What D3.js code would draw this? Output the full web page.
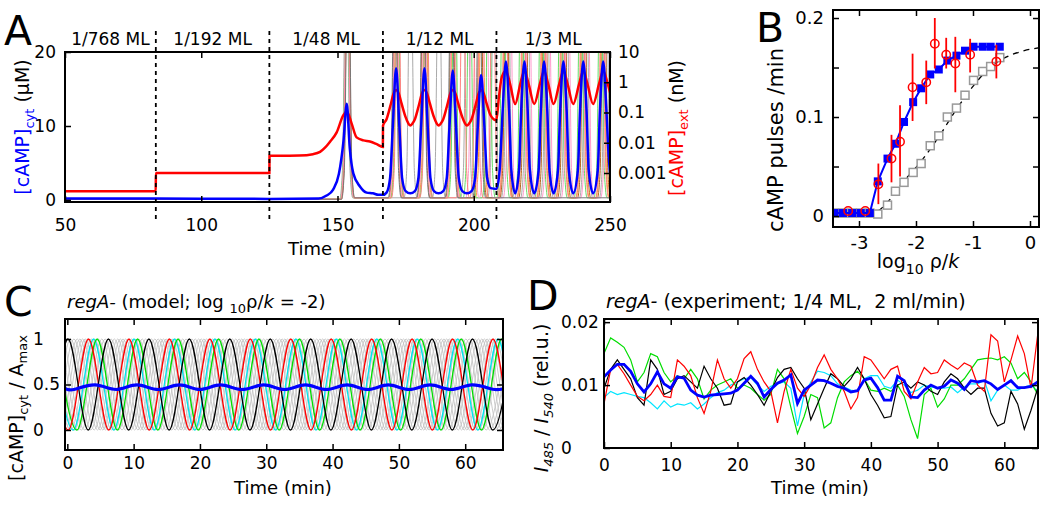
<!DOCTYPE html>
<html>
<head>
<meta charset="utf-8">
<style>
  body { margin: 0; background: #fff; }
  svg { font-family: 'DejaVu Sans', Verdana, sans-serif; }
</style>
</head>
<body>
<svg width="1050" height="507"></svg>
<script src="https://d3js.org/d3.v7.min.js"></script>
<script>
const FONT = "'DejaVu Sans', Verdana, sans-serif";
const svg = d3.select("svg");

// ---------------- Panel A data ----------------
const regionBounds = [50, 83.33, 125, 166.67, 208.33, 250];
const regionLabels = ["1/768 ML", "1/192 ML", "1/48 ML", "1/12 ML", "1/3 ML"];
const timeTicksA = [50, 100, 150, 200, 250];
const cytTicks = [0, 10, 20];
const extTicks = [0.001, 0.01, 0.1, 1, 10];
const extTickLabels = ["0.001", "0.01", "0.1", "1", "10"];

// mean cytosolic cAMP (uM), [time, value]
const cytMean = [
  [50, 0.2], [83.3, 0.2], [125, 0.15], [143, 0.2], [146, 0.6], [148.4, 1.4], [150.5, 3.5], [152.2, 8], [153.4, 13],
  [154.5, 7], [155.8, 3.6], [158.3, 1.8], [160.7, 1.0], [163, 0.9], [165, 0.7], [166.7, 0.7],
  [168, 1.0], [169.3, 3], [170.3, 10], [171.5, 17.8], [172.7, 10], [173.7, 3], [175, 1.2], [176.7, 0.9],
  [178.4, 1.2], [179.7, 3], [180.7, 10], [181.9, 17.8], [183.1, 10], [184.1, 3], [185.4, 1.2], [187.1, 0.9],
  [188.8, 1.2], [190.1, 3], [191.1, 10], [192.3, 17.5], [193.5, 10], [194.5, 3], [195.8, 1.2], [197.5, 0.9],
  [199.2, 1.2], [200.5, 3], [201.5, 10], [202.7, 16.9], [203.9, 10], [204.9, 3], [206.2, 1.6], [208.3, 1.5],
  [209.5, 4], [210.6, 12], [211.8, 18.7], [213.0, 12], [213.8, 4], [215.2, 0.9],
  [216.6, 4], [217.4, 12], [218.6, 18.7], [219.8, 12], [220.6, 4], [222.2, 0.9],
  [223.8, 4], [224.6, 12], [225.8, 18.7], [227.0, 12], [227.8, 4], [229.3, 0.9],
  [230.9, 4], [231.7, 12], [232.9, 18.7], [234.1, 12], [234.9, 4], [236.5, 0.9],
  [238.2, 4], [239.0, 12], [240.2, 18.7], [241.4, 12], [242.2, 4], [243.8, 0.9],
  [245.5, 4], [246.3, 12], [247.5, 18.7], [248.7, 12], [249.5, 6], [250.5, 2]
];

// extracellular cAMP (nM), [time, value]
const extCamp = [
  [50, 0.00025], [83.3, 0.00025], [83.35, 0.001], [125, 0.001], [125.05, 0.0037], [136, 0.0038], [141, 0.0042],
  [143.6, 0.005], [145.5, 0.007], [147.2, 0.0107], [149.7, 0.022], [152.1, 0.08], [153.4, 0.108], [155.2, 0.043],
  [157, 0.015], [159.5, 0.012], [161.9, 0.011], [164.4, 0.009], [166.65, 0.0073],
  [166.7, 0.037], [168, 0.06], [169.5, 0.18], [170.5, 0.4], [171.5, 0.55], [172.5, 0.42], [173.5, 0.2], [175, 0.07],
  [175.9, 0.045], [176.7, 0.037], [177.5, 0.043],
  [178.4, 0.06], [179.9, 0.18], [180.9, 0.4], [181.9, 0.55], [182.9, 0.42], [183.9, 0.2], [185.4, 0.07],
  [186.3, 0.045], [187.1, 0.037], [187.9, 0.043],
  [188.8, 0.06], [190.3, 0.18], [191.3, 0.4], [192.3, 0.55], [193.3, 0.42], [194.3, 0.2], [195.8, 0.07],
  [196.7, 0.045], [197.5, 0.037], [198.3, 0.043],
  [199.2, 0.06], [200.7, 0.18], [201.7, 0.4], [202.7, 0.55], [203.7, 0.42], [204.7, 0.2], [206.2, 0.08], [208.3, 0.055],
  [209.2, 0.3], [210.3, 1.5], [211.8, 2.4], [213.3, 0.9], [215.2, 0.19], [217.1, 0.9], [218.6, 2.4], [220.1, 0.9],
  [222.2, 0.19], [224.3, 0.9], [225.8, 2.4], [227.3, 0.9], [229.3, 0.19], [231.4, 0.9], [232.9, 2.4], [234.4, 0.9],
  [236.5, 0.19], [238.7, 0.9], [240.2, 2.4], [241.7, 0.9], [243.8, 0.19], [246, 0.9], [247.5, 2.4], [249, 1.0], [250.5, 0.3]
];

// single cells: colour and pulse times (min)
const cellColors = ["#aaaaaa", "#ff9933", "#b5651d", "#66dd66", "#ff99cc", "#ff8080", "#777777"];
const cellPeaks = [
  [153.2, 176.8, 187.2, 197.6, 207.5, 212.5, 219.6, 226.8, 233.9, 241.2, 248.5],
  [153.6, 171.8, 182.2, 192.6, 203.0, 211.6, 218.4, 225.6, 232.7, 240.0, 247.3],
  [153.8, 171.3, 181.6, 192.1, 202.4, 212.0, 218.9, 226.1, 233.2, 240.5, 247.8],
  [153.4, 172.0, 182.5, 193.0, 198.5, 205.5, 210.8, 217.5, 224.8, 231.9, 239.2, 246.5],
  [153.5, 171.5, 181.9, 192.4, 199.5, 204.5, 213.2, 220.2, 227.4, 234.5, 241.7, 249.0],
  [153.7, 172.2, 182.6, 196.0, 201.0, 207.0, 211.6, 218.2, 225.4, 232.5, 239.8, 247.1],
  [153.9, 171.0, 181.4, 191.8, 202.0]
];

// ---------------- Panel B data ----------------
const bTicksX = [-3, -2, -1, 0];
const bTicksY = [0, 0.05, 0.1, 0.15, 0.2];
const bLabelsY = { 0: "0", 0.1: "0.1", 0.2: "0.2" };
const bX = [-3.43, -3.28, -3.12, -2.97, -2.81, -2.67, -2.5, -2.36, -2.21, -2.05, -1.91, -1.75, -1.6, -1.45, -1.29, -1.14, -0.99, -0.83, -0.69, -0.53];
const bModel = [0.003, 0.003, 0.003, 0.003, 0.003, 0.035, 0.058, 0.073, 0.095, 0.115, 0.129, 0.143, 0.148, 0.157, 0.162, 0.167, 0.171, 0.171, 0.171, 0.171];
const bRegA = [0.003, 0.003, 0.003, 0.003, 0.003, 0.002, 0.011, 0.025, 0.034, 0.044, 0.053, 0.071, 0.081, 0.100, 0.109, 0.122, 0.137, 0.146, 0.151, 0.160];
const bFitX = [-3.43, -2.81, -2.67, -2.5, -2.2, -1.9, -1.6, -1.3, -1.0, -0.7, -0.4, -0.1, 0.16];
const bFitY = [0.003, 0.003, 0.005, 0.014, 0.036, 0.056, 0.080, 0.107, 0.131, 0.150, 0.161, 0.167, 0.170];
const expX = [-3.19, -2.89, -2.66, -2.43, -2.28, -2.06, -1.82, -1.67, -1.47, -1.31, -1.05, -0.59];
const expY = [0.005, 0.005, 0.032, 0.058, 0.075, 0.130, 0.135, 0.174, 0.163, 0.154, 0.163, 0.156];
const expLo = [0.005, 0.005, 0.012, 0.034, 0.040, 0.096, 0.113, 0.149, 0.149, 0.125, 0.145, 0.139];
const expHi = [0.005, 0.005, 0.053, 0.082, 0.112, 0.164, 0.157, 0.200, 0.180, 0.181, 0.179, 0.173];

// ---------------- Panel C data ----------------
const timeTicksCD = [0, 10, 20, 30, 40, 50, 60];
const cTicksY = [0, 0.5, 1];
const periodC = 6.1;
const redPeaksC = [-2.9, 3.2, 9.3, 15.4, 21.5, 27.6, 33.7, 39.8, 45.9, 52.0, 58.1, 64.2, 70.3];
const cyanPeaksC = [-2.15, 3.95, 10.05, 16.15, 22.25, 28.35, 34.45, 40.55, 46.65, 52.75, 58.85, 64.95, 71.05];
const greenPeaksC = [-1.6, 4.5, 10.6, 16.7, 22.8, 28.9, 35.0, 41.1, 47.2, 53.3, 59.4, 65.5, 71.6];
const blackPeaksC = [-6.0, 0.1, 6.2, 12.3, 18.4, 24.5, 30.6, 36.7, 42.8, 48.9, 55.0, 61.1, 67.2];
const grayPhaseC = [3.6, 4.1, 4.7, 5.2, 5.7, 0.5, 1.0, 1.5, 1.9, 2.3, 2.7, 3.05];
const meanC = [
  [-0.4, 0.458], [1.0, 0.445], [4.2, 0.495], [7.35, 0.445], [10.5, 0.495], [13.7, 0.445], [16.9, 0.495],
  [20.0, 0.445], [23.1, 0.495], [26.35, 0.445], [29.6, 0.495], [32.75, 0.445], [35.9, 0.495], [39.05, 0.445],
  [42.2, 0.495], [45.3, 0.445], [48.4, 0.495], [51.55, 0.445], [54.7, 0.495], [57.85, 0.445], [61.0, 0.495],
  [64.15, 0.448], [66, 0.458]
];

// ---------------- Panel D data (one sample per minute, t = 0..65) ----------------
const dTicksY = [0, 0.01, 0.02];
const dLabelsY = ["0", "0.01", "0.02"];
const redD = [0.0070, 0.0125, 0.0133, 0.0118, 0.0100, 0.0082, 0.0075, 0.0085, 0.0100, 0.0082, 0.0080, 0.0140, 0.0130, 0.0115, 0.0080, 0.0055,
  0.0090, 0.0140, 0.0110, 0.0095, 0.0110, 0.0142, 0.0153, 0.0125, 0.0105, 0.0090, 0.0040, 0.0090, 0.0125, 0.0095, 0.0082, 0.0100,
  0.0128, 0.0148, 0.0125, 0.0110, 0.0090, 0.0062, 0.0080, 0.0145, 0.0140, 0.0125, 0.0110, 0.0125, 0.0130, 0.0090, 0.0078, 0.0105,
  0.0128, 0.0118, 0.0120, 0.0140, 0.0132, 0.0125, 0.0135, 0.0130, 0.0100, 0.0090, 0.0180, 0.0170, 0.0105, 0.0140, 0.0178, 0.0150,
  0.0095, 0.0180];
const greenD = [0.0150, 0.0175, 0.0168, 0.0160, 0.0140, 0.0105, 0.0120, 0.0150, 0.0145, 0.0120, 0.0105, 0.0115, 0.0110, 0.0125, 0.0110, 0.0078,
  0.0092, 0.0100, 0.0105, 0.0110, 0.0095, 0.0100, 0.0095, 0.0085, 0.0076, 0.0085, 0.0125, 0.0110, 0.0065, 0.0023, 0.0050, 0.0085,
  0.0080, 0.0032, 0.0040, 0.0080, 0.0105, 0.0115, 0.0122, 0.0110, 0.0092, 0.0090, 0.0095, 0.0090, 0.0100, 0.0082, 0.0045, 0.0015,
  0.0085, 0.0095, 0.0065, 0.0078, 0.0100, 0.0100, 0.0110, 0.0125, 0.0140, 0.0142, 0.0143, 0.0140, 0.0145, 0.0135, 0.0110, 0.0120,
  0.0105, 0.0085];
const blackD = [0.0095, 0.0125, 0.0140, 0.0125, 0.0110, 0.0080, 0.0068, 0.0140, 0.0125, 0.0085, 0.0090, 0.0110, 0.0115, 0.0105, 0.0095, 0.0130,
  0.0110, 0.0095, 0.0068, 0.0070, 0.0105, 0.0112, 0.0100, 0.0085, 0.0068, 0.0090, 0.0112, 0.0125, 0.0128, 0.0110, 0.0095, 0.0045,
  0.0070, 0.0095, 0.0118, 0.0110, 0.0098, 0.0110, 0.0128, 0.0110, 0.0085, 0.0068, 0.0048, 0.0050, 0.0100, 0.0105, 0.0095, 0.0105,
  0.0100, 0.0090, 0.0085, 0.0105, 0.0118, 0.0110, 0.0095, 0.0085, 0.0095, 0.0095, 0.0055, 0.0035, 0.0040, 0.0090, 0.0070, 0.0030,
  0.0060, 0.0095];
const cyanD = [0.0080, 0.0090, 0.0085, 0.0088, 0.0085, 0.0082, 0.0080, 0.0072, 0.0062, 0.0075, 0.0065, 0.0070, 0.0068, 0.0072, 0.0062, 0.0070,
  0.0080, 0.0088, 0.0092, 0.0100, 0.0105, 0.0110, 0.0112, 0.0100, 0.0090, 0.0098, 0.0102, 0.0105, 0.0095, 0.0035, 0.0085, 0.0105,
  0.0122, 0.0120, 0.0115, 0.0102, 0.0097, 0.0092, 0.0090, 0.0110, 0.0115, 0.0115, 0.0098, 0.0095, 0.0108, 0.0100, 0.0088, 0.0092,
  0.0100, 0.0097, 0.0095, 0.0095, 0.0097, 0.0088, 0.0097, 0.0102, 0.0102, 0.0108, 0.0075, 0.0092, 0.0100, 0.0092, 0.0092, 0.0097,
  0.0100, 0.0090];
const blueD = [0.0113, 0.0124, 0.0133, 0.0133, 0.0122, 0.0102, 0.0089, 0.0102, 0.0121, 0.0102, 0.0095, 0.0113, 0.0111, 0.0092, 0.0084, 0.0081,
  0.0084, 0.0085, 0.0086, 0.0087, 0.0092, 0.0103, 0.0114, 0.0103, 0.0081, 0.0093, 0.0103, 0.0108, 0.0116, 0.0071, 0.0092, 0.0100,
  0.0108, 0.0107, 0.0103, 0.0098, 0.0095, 0.0089, 0.0091, 0.0108, 0.0111, 0.0096, 0.0076, 0.0076, 0.0114, 0.0107, 0.0081, 0.0080,
  0.0092, 0.0100, 0.0095, 0.0098, 0.0108, 0.0103, 0.0093, 0.0107, 0.0105, 0.0107, 0.0102, 0.0093, 0.0100, 0.0107, 0.0096, 0.0096,
  0.0098, 0.0105];
const timeD = d3.range(0, 66);

// ---------------- helpers ----------------
function styleAxis(g, fs) {
  g.select(".domain").remove();
  g.selectAll(".tick line").attr("stroke", "#000").attr("stroke-width", 1.5);
  g.selectAll("text").attr("font-size", fs).attr("font-family", FONT).attr("fill", "#000");
}

function frame(x0, y0, x1, y1) {
  svg.append("rect")
    .attr("x", x0).attr("y", y0)
    .attr("width", x1 - x0).attr("height", y1 - y0)
    .attr("fill", "none").attr("stroke", "#000").attr("stroke-width", 2);
}

function clip(id, x0, y0, x1, y1) {
  svg.append("clipPath").attr("id", id)
    .append("rect").attr("x", x0).attr("y", y0).attr("width", x1 - x0).attr("height", y1 - y0);
  return svg.append("g").attr("clip-path", `url(#${id})`);
}

// text made of parts: {t, italic, shift, size, fill}
function rich(x, y, parts, opts) {
  const t = svg.append("text")
    .attr("x", x).attr("y", y)
    .attr("font-size", opts.size)
    .attr("text-anchor", opts.anchor || "start")
    .attr("fill", "#000")
    .style("white-space", "pre");
  if (opts.rotate) t.attr("transform", `rotate(-90, ${x}, ${y})`);
  let cur = 0;
  parts.forEach(p => {
    const ts = t.append("tspan").text(p.t);
    const s = p.shift || 0;
    if (s !== cur) ts.attr("dy", s - cur);
    cur = s;
    if (p.italic) ts.attr("font-style", "italic");
    if (p.size) ts.attr("font-size", p.size);
    if (p.fill) ts.attr("fill", p.fill);
  });
  return t;
}

function letter(x, y, s) {
  svg.append("text").attr("x", x).attr("y", y).attr("font-size", 41).text(s);
}

// ================= Panel A =================
const xA = d3.scaleLinear().domain([50, 250]).range([65, 610]);
const yCyt = d3.scaleLinear().domain([-0.27, 20]).range([202, 52]);
const yExt = d3.scaleLog().domain([1.1e-4, 10]).range([202, 52]);

const plotA = clip("clipA", 65, 52, 610, 202);

const cellLine = d3.line().x(d => xA(d[0])).y(d => yCyt(d[1])).curve(d3.curveMonotoneX);
cellPeaks.forEach((peaks, i) => {
  const knots = [[50, 0.1]];
  peaks.forEach(p => {
    const base = p < 160 ? 0.1 : 0.3;
    knots.push([p - 2.4, base], [p - 1.4, 4], [p - 0.7, 22], [p, 45], [p + 0.7, 22], [p + 1.4, 4], [p + 2.4, 0.3]);
  });
  knots.push([252, 0.3]);
  plotA.append("path").datum(knots)
    .attr("fill", "none").attr("stroke", cellColors[i]).attr("stroke-width", 1)
    .attr("d", cellLine);
});

plotA.append("path").datum(extCamp)
  .attr("fill", "none").attr("stroke", "#ff0000").attr("stroke-width", 2.5)
  .attr("d", d3.line().x(d => xA(d[0])).y(d => yExt(d[1])).curve(d3.curveMonotoneX));

plotA.append("path").datum(cytMean)
  .attr("fill", "none").attr("stroke", "#0000ff").attr("stroke-width", 2.5)
  .attr("d", cellLine);

// region separators
svg.selectAll(".sep").data(regionBounds.slice(1, 5)).join("line")
  .attr("x1", d => xA(d)).attr("x2", d => xA(d))
  .attr("y1", 31).attr("y2", 219)
  .attr("stroke", "#000").attr("stroke-width", 1.8).attr("stroke-dasharray", "4,4");

svg.selectAll(".region").data(regionLabels).join("text")
  .attr("x", (d, i) => xA((regionBounds[i] + regionBounds[i + 1]) / 2))
  .attr("y", 45).attr("text-anchor", "middle").attr("font-size", 17)
  .text(d => d);

svg.append("g").attr("transform", "translate(0,202)")
  .call(d3.axisBottom(xA).tickValues(timeTicksA).tickSize(-6).tickPadding(17))
  .call(g => styleAxis(g, 17));
svg.append("g").attr("transform", "translate(0,52)")
  .call(d3.axisTop(xA).tickValues(timeTicksA).tickSize(-6).tickFormat(""))
  .call(g => styleAxis(g, 17));
svg.append("g").attr("transform", "translate(65,0)")
  .call(d3.axisLeft(yCyt).tickValues(cytTicks).tickSize(-6).tickPadding(9))
  .call(g => styleAxis(g, 17));
svg.append("g").attr("transform", "translate(610,0)")
  .call(d3.axisRight(yExt).tickValues(extTicks).tickSize(-6).tickPadding(8).tickFormat((d, i) => extTickLabels[i]))
  .call(g => styleAxis(g, 17));
frame(65, 52, 610, 202);

rich(337, 255, [{ t: "Time (min)" }], { size: 18, anchor: "middle" });
rich(29, 127, [
  { t: "[cAMP]", fill: "#0000ff" }, { t: "cyt", fill: "#0000ff", shift: 5, size: 13 }, { t: " (\u03bcM)", shift: 0 }
], { size: 19, anchor: "middle", rotate: true });
rich(683, 128, [
  { t: "[cAMP]", fill: "#ff0000" }, { t: "ext", fill: "#ff0000", shift: 5, size: 13 }, { t: " (nM)", shift: 0 }
], { size: 19, anchor: "middle", rotate: true });
letter(4, 45, "A");

// ================= Panel B =================
const xB = d3.scaleLinear().domain([-3.456, 0.158]).range([833, 1039]);
const yB = d3.scaleLinear().domain([-0.0111, 0.2081]).range([227, 10]);
const plotB = clip("clipB", 833, 10, 1039, 227);

plotB.append("path").datum(d3.zip(bFitX, bFitY))
  .attr("fill", "none").attr("stroke", "#000").attr("stroke-width", 1.3).attr("stroke-dasharray", "6,5")
  .attr("d", d3.line().x(d => xB(d[0])).y(d => yB(d[1])).curve(d3.curveMonotoneX));

plotB.selectAll(".gsq").data(d3.zip(bX, bRegA)).join("rect")
  .attr("x", d => xB(d[0]) - 4).attr("y", d => yB(d[1]) - 4)
  .attr("width", 8).attr("height", 8)
  .attr("fill", "#fff").attr("stroke", "#999").attr("stroke-width", 1.5);

plotB.append("path").datum(d3.zip(bX, bModel))
  .attr("fill", "none").attr("stroke", "#0000ff").attr("stroke-width", 2)
  .attr("d", d3.line().x(d => xB(d[0])).y(d => yB(d[1])));
plotB.selectAll(".bsq").data(d3.zip(bX, bModel)).join("rect")
  .attr("x", d => xB(d[0]) - 4).attr("y", d => yB(d[1]) - 4)
  .attr("width", 8).attr("height", 8).attr("fill", "#0000ff");

plotB.selectAll(".err").data(expX).join("line")
  .attr("x1", d => xB(d)).attr("x2", d => xB(d))
  .attr("y1", (d, i) => yB(expLo[i])).attr("y2", (d, i) => yB(expHi[i]))
  .attr("stroke", "#ff0000").attr("stroke-width", 1.8);
plotB.selectAll(".circ").data(expX).join("circle")
  .attr("cx", d => xB(d)).attr("cy", (d, i) => yB(expY[i])).attr("r", 4.2)
  .attr("fill", "none").attr("stroke", "#ff0000").attr("stroke-width", 1.5);

svg.append("g").attr("transform", "translate(0,227)")
  .call(d3.axisBottom(xB).tickValues(bTicksX).tickSize(-6).tickPadding(9).tickFormat(d => String(d)))
  .call(g => styleAxis(g, 18));
svg.append("g").attr("transform", "translate(0,10)")
  .call(d3.axisTop(xB).tickValues(bTicksX).tickSize(-6).tickFormat(""))
  .call(g => styleAxis(g, 18));
svg.append("g").attr("transform", "translate(833,0)")
  .call(d3.axisLeft(yB).tickValues(bTicksY).tickSize(-6).tickPadding(9).tickFormat(d => bLabelsY[d] || ""))
  .call(g => styleAxis(g, 18));
svg.append("g").attr("transform", "translate(1039,0)")
  .call(d3.axisRight(yB).tickValues(bTicksY).tickSize(-6).tickFormat(""))
  .call(g => styleAxis(g, 18));
frame(833, 10, 1039, 227);

rich(783, 140, [{ t: "cAMP pulses /min" }], { size: 21, anchor: "middle", rotate: true });
rich(918, 268, [
  { t: "log" }, { t: "10", shift: 6, size: 14 }, { t: " \u03c1/", shift: 0 }, { t: "k", italic: true }
], { size: 19, anchor: "middle" });
letter(756, 42, "B");

// ================= Panel C =================
const xC = d3.scaleLinear().domain([-0.35, 65.7]).range([65, 503]);
const yC = d3.scaleLinear().domain([-0.22, 1.22]).range([450, 319]);
const plotC = clip("clipC", 65, 319, 503, 450);
const lineC = d3.line().x(d => xC(d[0])).y(d => yC(d[1])).curve(d3.curveMonotoneX);

function oscKnots(peaks) {
  const k = [];
  peaks.forEach((p, i) => {
    k.push([p, 1]);
    if (i < peaks.length - 1) k.push([(p + peaks[i + 1]) / 2, 0]);
  });
  return k;
}

grayPhaseC.forEach(ph => {
  const peaks = d3.range(ph - periodC, 72, periodC);
  plotC.append("path").datum(oscKnots(peaks))
    .attr("fill", "none").attr("stroke", "#c4c4c4").attr("stroke-width", 0.9)
    .attr("d", lineC);
});
[[cyanPeaksC, "#00e5ee"], [greenPeaksC, "#00dd00"], [redPeaksC, "#ff0000"], [blackPeaksC, "#000000"]].forEach(([pk, col]) => {
  plotC.append("path").datum(oscKnots(pk))
    .attr("fill", "none").attr("stroke", col).attr("stroke-width", 1.3)
    .attr("d", lineC);
});
plotC.append("path").datum(meanC)
  .attr("fill", "none").attr("stroke", "#0000ff").attr("stroke-width", 3.2)
  .attr("d", d3.line().x(d => xC(d[0])).y(d => yC(d[1])).curve(d3.curveNatural));

svg.append("g").attr("transform", "translate(0,450)")
  .call(d3.axisBottom(xC).tickValues(timeTicksCD).tickSize(-6).tickPadding(7))
  .call(g => styleAxis(g, 17));
svg.append("g").attr("transform", "translate(0,319)")
  .call(d3.axisTop(xC).tickValues(timeTicksCD).tickSize(-6).tickFormat(""))
  .call(g => styleAxis(g, 17));
svg.append("g").attr("transform", "translate(65,0)")
  .call(d3.axisLeft(yC).tickValues(cTicksY).tickSize(-6).tickFormat(d3.format("")))
  .call(g => styleAxis(g, 17))
  .call(g => g.selectAll("text").attr("text-anchor", "start").attr("x", 33 - 65));
svg.append("g").attr("transform", "translate(503,0)")
  .call(d3.axisRight(yC).tickValues(cTicksY).tickSize(-6).tickFormat(""))
  .call(g => styleAxis(g, 17));
frame(65, 319, 503, 450);

rich(283, 494, [{ t: "Time (min)" }], { size: 18, anchor: "middle" });
rich(23, 408, [
  { t: "[cAMP]" }, { t: "cyt", shift: 5, size: 13 }, { t: " / A", shift: 0 }, { t: "max", shift: 4, size: 13 }
], { size: 19, anchor: "middle", rotate: true });
rich(67, 308, [
  { t: "regA-", italic: true }, { t: " (model; log " }, { t: "10", shift: 5, size: 13 }, { t: "\u03c1/", shift: 0 },
  { t: "k", italic: true }, { t: " = -2)" }
], { size: 18 });
letter(4, 316, "C");

// ================= Panel D =================
const xD = d3.scaleLinear().domain([0, 65.05]).range([604, 1038]);
const yD = d3.scaleLinear().domain([0, 0.0205]).range([448, 319]);
const plotD = clip("clipD", 604, 319, 1038, 448);
const lineD = d3.line().x(d => xD(d[0])).y(d => yD(d[1]));

[[cyanD, "#00e5ff", 1.2], [greenD, "#00dd00", 1.2], [blackD, "#000000", 1.2], [redD, "#ff0000", 1.2], [blueD, "#0000ff", 2.8]]
  .forEach(([vals, col, w]) => {
    plotD.append("path").datum(d3.zip(timeD, vals))
      .attr("fill", "none").attr("stroke", col).attr("stroke-width", w)
      .attr("d", lineD);
  });

svg.append("g").attr("transform", "translate(0,448)")
  .call(d3.axisBottom(xD).tickValues(timeTicksCD).tickSize(-6).tickPadding(11))
  .call(g => styleAxis(g, 17));
svg.append("g").attr("transform", "translate(0,319)")
  .call(d3.axisTop(xD).tickValues(timeTicksCD).tickSize(-6).tickFormat(""))
  .call(g => styleAxis(g, 17));
svg.append("g").attr("transform", "translate(604,0)")
  .call(d3.axisLeft(yD).tickValues(dTicksY).tickSize(-6).tickFormat((d, i) => dLabelsY[i]))
  .call(g => styleAxis(g, 17))
  .call(g => g.selectAll("text").attr("text-anchor", "start").attr("x", 561 - 604));
svg.append("g").attr("transform", "translate(1038,0)")
  .call(d3.axisRight(yD).tickValues(dTicksY).tickSize(-6).tickFormat(""))
  .call(g => styleAxis(g, 17));
frame(604, 319, 1038, 448);

rich(820, 494, [{ t: "Time (min)" }], { size: 18, anchor: "middle" });
rich(548, 398, [
  { t: "I", italic: true }, { t: "485", italic: true, shift: 5, size: 13 }, { t: " / ", shift: 0 },
  { t: "I", italic: true }, { t: "540", italic: true, shift: 5, size: 13 }, { t: " (rel.u.)", shift: 0 }
], { size: 19, anchor: "middle", rotate: true });
rich(606, 308, [
  { t: "regA-", italic: true }, { t: " (experiment; 1/4 ML,\u00a0 2 ml/min)" }
], { size: 19 });
letter(527, 310, "D");
</script>
</body>
</html>
